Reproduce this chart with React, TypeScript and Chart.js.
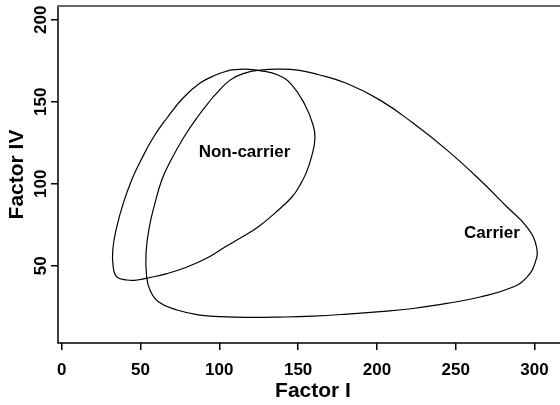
import { useEffect, useRef } from "react";
import { Chart, registerables } from "chart.js";

Chart.register(...registerables);

// Axis ticks and titles
const X_TICKS = [0, 50, 100, 150, 200, 250, 300];
const Y_TICKS = [50, 100, 150, 200];
const X_TITLE = "Factor I";
const Y_TITLE = "Factor IV";

// Contour of the non-carrier group (closed loop, traced clockwise)
const NONCARRIER_X = [
  106.8, 116.3, 125.8, 137.2, 146.1, 154.4, 159.5, 160.7, 158.8, 155.3,
  151.2, 146.1, 135.3, 124.6, 114.4, 103.6, 92.2, 79.5, 66.8, 56.0,
  47.8, 41.4, 35.1, 32.7, 32.4, 34.9, 39.1, 44.4, 49.7, 57.9,
  66.8, 77.0, 87.8, 98.5, 106.8,
];
const NONCARRIER_Y = [
  169.3, 169.9, 169.0, 166.3, 160.2, 148.0, 135.8, 127.9, 117.5, 107.1,
  99.2, 91.9, 82.1, 73.6, 67.5, 61.4, 54.7, 49.2, 45.2, 42.8,
  41.3, 41.3, 43.1, 49.2, 59.6, 73.6, 88.2, 102.3, 113.2, 127.9,
  140.1, 152.3, 161.4, 166.6, 169.3,
];

// Contour of the carrier group (closed loop, traced clockwise)
const CARRIER_X = [
  96.0, 106.8, 116.3, 125.8, 137.2, 149.9, 162.6, 181.0, 202.0, 222.9,
  244.5, 265.4, 282.6, 295.2, 301.3, 300.3, 295.2, 286.4, 265.4, 244.5,
  222.9, 202.0, 181.0, 159.5, 138.5, 117.6, 100.4, 87.8, 73.2, 61.3,
  56.0, 53.9, 53.5, 55.6, 59.2, 63.5, 68.7, 77.2, 85.7, 96.0,
];
const CARRIER_Y = [
  152.9, 163.2, 167.5, 169.3, 169.9, 169.3, 166.6, 161.1, 151.0, 137.0,
  120.5, 102.3, 85.8, 73.6, 61.4, 51.6, 43.1, 37.0, 30.9, 27.0,
  23.9, 22.0, 20.5, 19.3, 18.7, 18.5, 19.0, 19.9, 23.0, 28.0,
  35.2, 43.3, 57.7, 73.6, 88.2, 102.3, 113.2, 127.9, 140.1, 152.9,
];

// Group names placed inside their contours
const GROUP_NAMES = ["Non-carrier", "Carrier"];
const GROUP_LABEL_X = [116, 273];
const GROUP_LABEL_Y = [119, 70];

const FONT = '"Liberation Sans", Arial, Helvetica, sans-serif';

const toPoints = (xs: number[], ys: number[]) => xs.map((x, i) => ({ x, y: ys[i] }));

const decorations = {
  id: "decorations",
  afterDraw(chart: any) {
    const { ctx, chartArea, scales } = chart;
    const { left, top, right, bottom } = chartArea;
    ctx.save();

    // plot frame
    ctx.strokeStyle = "#000";
    ctx.lineWidth = 1.5;
    ctx.beginPath();
    ctx.moveTo(left, top);
    ctx.lineTo(left, bottom);
    ctx.lineTo(right, bottom);
    ctx.stroke();
    ctx.strokeStyle = "#666";
    ctx.lineWidth = 2;
    ctx.beginPath();
    ctx.moveTo(left - 0.75, top);
    ctx.lineTo(right, top);
    ctx.stroke();

    // rotated y tick labels
    const ys = scales.y;
    ctx.fillStyle = "#000";
    ctx.font = `bold 17px ${FONT}`;
    ctx.textAlign = "center";
    ctx.textBaseline = "middle";
    for (const t of ys.ticks) {
      const py = ys.getPixelForValue(t.value);
      ctx.save();
      ctx.translate(41, py);
      ctx.rotate(-Math.PI / 2);
      ctx.fillText(String(t.value), 0, 0);
      ctx.restore();
    }

    // group names
    const xs = scales.x;
    GROUP_NAMES.forEach((name, i) => {
      ctx.fillText(
        name,
        xs.getPixelForValue(GROUP_LABEL_X[i]),
        ys.getPixelForValue(GROUP_LABEL_Y[i])
      );
    });
    ctx.restore();
  },
};

export default function App() {
  const canvasRef = useRef<HTMLCanvasElement | null>(null);

  useEffect(() => {
    const canvas = canvasRef.current;
    if (!canvas) return;
    const lineStyle = {
      showLine: true,
      borderColor: "#000",
      borderWidth: 1.2,
      pointRadius: 0,
      pointHoverRadius: 0,
      tension: 0.45,
      fill: false,
    };
    const chart = new Chart(canvas, {
      type: "scatter",
      data: {
        datasets: [
          { label: GROUP_NAMES[0], data: toPoints(NONCARRIER_X, NONCARRIER_Y), ...lineStyle },
          { label: GROUP_NAMES[1], data: toPoints(CARRIER_X, CARRIER_Y), ...lineStyle },
        ],
      },
      options: {
        animation: false,
        responsive: false,
        devicePixelRatio: 1,
        layout: { padding: { top: 6, right: 2, left: 0, bottom: 0 } },
        plugins: {
          legend: { display: false },
          tooltip: { enabled: false },
        },
        scales: {
          x: {
            type: "linear",
            min: -2.35,
            max: 321.25,
            afterBuildTicks: (s: any) => {
              s.ticks = X_TICKS.map((v) => ({ value: v }));
            },
            afterFit: (s: any) => {
              s.height = 62;
            },
            grid: {
              drawOnChartArea: false,
              drawTicks: true,
              tickLength: 7,
              tickColor: "#000",
              lineWidth: 1.5,
            },
            border: { display: false },
            ticks: {
              color: "#000",
              font: { family: FONT, size: 17, weight: "bold" },
              padding: 9.8,
              maxRotation: 0,
              autoSkip: false,
            },
            title: {
              display: true,
              text: X_TITLE,
              color: "#000",
              font: { family: FONT, size: 21, weight: "bold" },
              padding: { top: 0, bottom: 1.4 },
            },
          },
          y: {
            type: "linear",
            min: 2.87,
            max: 208.4,
            afterBuildTicks: (s: any) => {
              s.ticks = Y_TICKS.map((v) => ({ value: v }));
            },
            afterFit: (s: any) => {
              s.width = 58;
            },
            grid: {
              drawOnChartArea: false,
              drawTicks: true,
              tickLength: 7,
              tickColor: "#000",
              lineWidth: 1.5,
            },
            border: { display: false },
            ticks: { display: false },
            title: {
              display: true,
              text: Y_TITLE,
              color: "#000",
              font: { family: FONT, size: 21, weight: "bold" },
              padding: { top: 4.4, bottom: 0 },
            },
          },
        },
      },
      plugins: [decorations],
    });
    return () => chart.destroy();
  }, []);

  return (
    <div
      style={{
        position: "fixed",
        left: 0,
        top: 0,
        width: 560,
        height: 405,
        overflow: "hidden",
        background: "#fff",
      }}
    >
      <canvas ref={canvasRef} width={570} height={405} style={{ display: "block" }} />
    </div>
  );
}
